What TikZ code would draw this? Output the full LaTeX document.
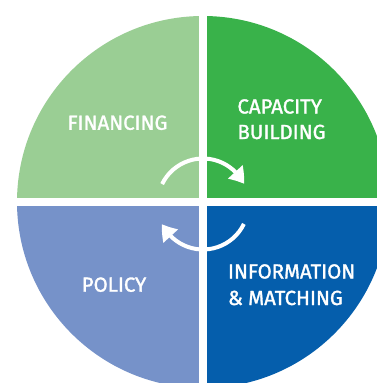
\documentclass[tikz,border=0pt]{standalone}
\usepackage{fontspec}
\newfontfamily\labfont{Fira Sans}[FakeBold=1.5]
\usetikzlibrary{arrows.meta,bending}
\definecolor{fingreen}{HTML}{9ACE94}
\definecolor{capgreen}{HTML}{39B24A}
\definecolor{polblue}{HTML}{7692C9}
\definecolor{infblue}{HTML}{055EAC}
\tikzset{
  lab/.style={text=white, inner sep=0pt, font=\labfont\fontsize{20.4}{26.5}\selectfont},
  cyclearrow/.style={draw=white, line width=4pt, -{Triangle[length=15pt,width=19pt,bend]}},
  gap/.style={draw=white, line width=7.6pt}
}
\begin{document}
\begin{tikzpicture}[x=1pt,y=-1pt]
\useasboundingbox (0,0) rectangle (377,383);
\fill[white] (0,0) rectangle (377,383);
\coordinate (o) at (203,202);
\coordinate (c) at (203,204);
\begin{scope}
\clip (0,0) rectangle (377,383);
\fill[fingreen] (o) -- ++(-186,0) arc[start angle=180,end angle=270,radius=186] -- cycle;
\fill[capgreen] (o) -- ++(0,-186) arc[start angle=270,end angle=360,radius=186] -- cycle;
\fill[infblue] (o) -- ++(186,0) arc[start angle=0,end angle=90,radius=186] -- cycle;
\fill[polblue] (o) -- ++(0,186) arc[start angle=90,end angle=180,radius=186] -- cycle;
\draw[gap] (203,0) -- (203,383);
\draw[gap] (0,202) -- (377,202);
\end{scope}
\draw[cyclearrow] (c) ++(-154:45.5) arc[start angle=-154,end angle=-26,radius=45.5];
\draw[cyclearrow] (c) ++(26:45.5) arc[start angle=26,end angle=154,radius=45.5];
\node[lab, anchor=base] (fin) at (117.5,129.8) {FINANCING};
\node[lab, anchor=base] (pol) at (114,291.7) {POLICY};
\node[lab, anchor=base west] (cap1) at (237.3,113.5) {CAPACITY};
\node[lab, anchor=base west] (cap2) at (237.3,139) {BUILDING};
\node[lab, anchor=base west] (inf1) at (227.8,278.5) {INFORMATION};
\node[lab, anchor=base west] (inf2) at (227.8,305) {\&\ MATCHING};
\end{tikzpicture}
\end{document}
